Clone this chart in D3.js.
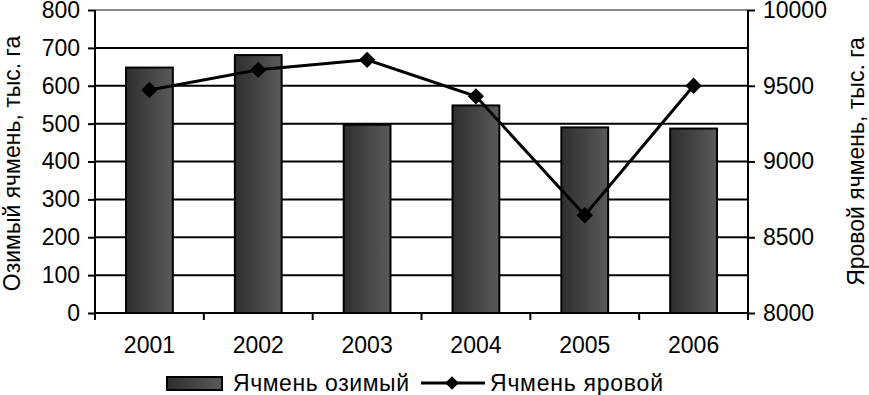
<!DOCTYPE html>
<html>
<head>
<meta charset="utf-8">
<script src="https://cdn.jsdelivr.net/npm/d3@7"></script>
<style>
  body { margin: 0; background: #fff; }
  text { font-family: "Liberation Sans", Arial, sans-serif; fill: #000; }
</style>
</head>
<body>
<svg width="869" height="395"></svg>
<script>
// данные
const years = ["2001", "2002", "2003", "2004", "2005", "2006"];
const winter = [648, 681, 497, 548, 490, 487];        // Ячмень озимый
const spring = [9472, 9605, 9671, 9430, 8645, 9500];  // Ячмень яровой
const leftTicks = [0, 100, 200, 300, 400, 500, 600, 700, 800];
const rightTicks = [8000, 8500, 9000, 9500, 10000];

const FS = 23;

const svg = d3.select("svg"),
    margin = { top: 10, right: 121, bottom: 82, left: 95 },
    width = +svg.attr("width") - margin.left - margin.right,
    height = +svg.attr("height") - margin.top - margin.bottom,
    g = svg.append("g").attr("transform", `translate(${margin.left},${margin.top})`);

// градиент для столбцов
const grad = svg.append("defs").append("linearGradient")
    .attr("id", "barGrad").attr("x1", "0%").attr("x2", "100%");
grad.append("stop").attr("offset", "0%").attr("stop-color", "#2e2e2e");
grad.append("stop").attr("offset", "100%").attr("stop-color", "#5a5a5a");

const x = d3.scaleBand().domain(years).range([0, width]).padding(0);
const yL = d3.scaleLinear().domain([0, 800]).range([height, 0]);
const yR = d3.scaleLinear().domain([8000, 10000]).range([height, 0]);

// сетка
g.selectAll(".grid")
    .data(leftTicks.filter(d => d > 0))
    .enter().append("line")
    .attr("x1", 0).attr("x2", width)
    .attr("y1", d => yL(d)).attr("y2", d => yL(d))
    .attr("stroke", d => d === 800 ? "#888" : "#000")
    .attr("stroke-width", 2);

// столбцы
const barW = x.bandwidth() * 0.43;
g.selectAll(".bar")
    .data(years.map((y, i) => ({ year: y, v: winter[i] })))
    .enter().append("rect")
    .attr("x", d => x(d.year) + (x.bandwidth() - barW) / 2)
    .attr("y", d => yL(d.v))
    .attr("width", barW)
    .attr("height", d => height - yL(d.v))
    .attr("fill", "url(#barGrad)")
    .attr("stroke", "#000")
    .attr("stroke-width", 2);

// оси
const axL = g.append("g")
    .call(d3.axisLeft(yL).tickValues(leftTicks).tickSize(7).tickPadding(8).tickFormat(d3.format("d")));
const axR = g.append("g")
    .attr("transform", `translate(${width},0)`)
    .call(d3.axisRight(yR).tickValues(rightTicks).tickSize(7).tickPadding(8).tickFormat(d3.format("d")));
const axB = g.append("g")
    .attr("transform", `translate(0,${height})`)
    .call(d3.axisBottom(x).tickSize(0).tickPadding(24));
[axL, axR, axB].forEach(a => {
    a.selectAll("path, line").attr("stroke", "#000").attr("stroke-width", 2);
    a.selectAll("text").attr("font-size", FS).attr("font-family", "Liberation Sans, Arial, sans-serif");
});
axB.select(".domain").attr("d", `M0,0H${width}`);
axL.select(".domain").attr("d", `M0,${height}V0`);
axR.select(".domain").attr("d", `M0,${height}V0`);

// деления по границам категорий
g.selectAll(".xtick")
    .data(years.concat(["end"]))
    .enter().append("line")
    .attr("x1", (d, i) => i * x.step()).attr("x2", (d, i) => i * x.step())
    .attr("y1", height).attr("y2", height + 7)
    .attr("stroke", "#000").attr("stroke-width", 2);

// линия
const line = d3.line()
    .x((d, i) => x(years[i]) + x.bandwidth() / 2)
    .y(d => yR(d));
g.append("path")
    .datum(spring)
    .attr("d", line)
    .attr("fill", "none")
    .attr("stroke", "#000")
    .attr("stroke-width", 3);

const diamond = d3.symbol().type(d3.symbolDiamond2).size(170);
g.selectAll(".pt")
    .data(spring)
    .enter().append("path")
    .attr("d", diamond)
    .attr("transform", (d, i) => `translate(${x(years[i]) + x.bandwidth() / 2},${yR(d)})`)
    .attr("fill", "#000");

// подписи осей
svg.append("text")
    .attr("transform", `translate(20,${margin.top + height / 2 + 2}) rotate(-90)`)
    .attr("text-anchor", "middle")
    .attr("font-size", FS)
    .text("Озимый ячмень, тыс. га");
svg.append("text")
    .attr("transform", `translate(864,${margin.top + height / 2}) rotate(-90)`)
    .attr("text-anchor", "middle")
    .attr("font-size", FS)
    .text("Яровой ячмень, тыс. га");

// легенда
const lg = svg.append("g").attr("transform", "translate(0,383)");
lg.append("rect")
    .attr("x", 167).attr("y", -6).attr("width", 55).attr("height", 13)
    .attr("fill", "url(#barGrad)").attr("stroke", "#000").attr("stroke-width", 2);
lg.append("text").attr("x", 233).attr("y", 8).attr("font-size", FS)
    .attr("textLength", 176).attr("lengthAdjust", "spacing")
    .text("Ячмень озимый");
lg.append("line")
    .attr("x1", 421).attr("x2", 485).attr("y1", 0).attr("y2", 0)
    .attr("stroke", "#000").attr("stroke-width", 3);
lg.append("path")
    .attr("d", d3.symbol().type(d3.symbolDiamond2).size(120))
    .attr("transform", "translate(452,0)")
    .attr("fill", "#000");
lg.append("text").attr("x", 490).attr("y", 8).attr("font-size", FS)
    .attr("textLength", 173).attr("lengthAdjust", "spacing")
    .text("Ячмень яровой");
</script>
</body>
</html>
